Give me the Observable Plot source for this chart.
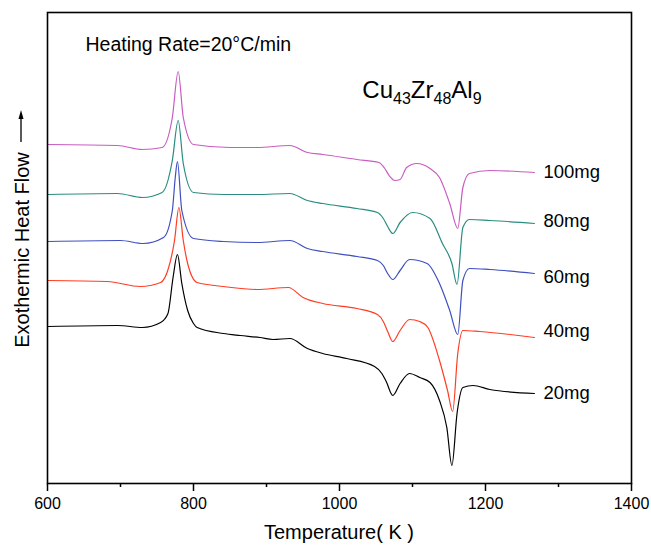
<!DOCTYPE html>
<html><head><meta charset="utf-8">
<script src="https://cdn.jsdelivr.net/npm/d3@7"></script>
<script src="https://cdn.jsdelivr.net/npm/@observablehq/plot@0.6"></script>
<style>body{margin:0;background:#fff;font-family:"Liberation Sans",Arial,sans-serif}</style>
</head><body><div id="chart"></div>
<script>
const seriesNames = ["20mg","40mg","60mg","80mg","100mg"];
const seriesColors = ["#000000","#ff3d24","#3f4fbf","#2a8c80","#c95cc0"];
const labelDy = [0,-6,4,-2,0];

const T20  = [601,696,730,755,765,772,778,784,792,800,805,841,864,891,909,932,956,977,1010,1048,1058,1064,1073,1083,1096,1110,1124,1137,1147,1154,1161,1169,1183,1206,1267];
const HF20 = [157,158,156,161,170,206,229,200,173,160,156,150,148,146,144,145,135,130,125,117,110,102,88,100,110,106,101,83,56,18,70,96,98,94,90];

const T40  = [601,682,727,755,766,774,780,786,792,805,841,887,930,950,977,1024,1052,1060,1066,1073,1083,1096,1110,1121,1137,1148,1155,1162,1169,1192,1267];
const HF40 = [203,202,197,201,216,243,276,243,220,201,197,194,196,186,180,175,169,162,152,142,153,164,162,156,123,93,72,130,153,152,146];

const T60  = [601,700,731,759,771,775,778,784,800,841,887,932,956,977,1024,1052,1060,1066,1073,1083,1096,1120,1137,1151,1162,1169,1178,1206,1267];
const HF60 = [242,243,240,246,273,306,322,273,245,242,241,243,235,232,227,223,218,210,204,213,224,220,200,173,149,203,215,214,210];

const T80  = [601,696,730,757,771,779,786,800,841,887,932,956,977,1024,1052,1060,1066,1073,1083,1100,1124,1141,1154,1161,1169,1178,1206,1267];
const HF80 = [289,290,286,291,323,363,320,291,289,289,290,283,280,275,271,265,257,250,261,271,265,240,220,199,256,264,263,260];

const T100  = [601,696,730,757,771,779,786,800,850,887,932,956,977,1024,1054,1062,1068,1076,1083,1092,1106,1124,1137,1151,1162,1169,1178,1206,1267];
const HF100 = [339,338,334,336,366,412,366,339,336,336,338,331,329,324,321,315,308,303,304,316,320,315,306,280,255,296,310,313,311];

const xTicks = [600,800,1000,1200,1400];
const xMinorTicks = [700,900,1100,1300];

const allT = [T20,T40,T60,T80,T100];
const allHF = [HF20,HF40,HF60,HF80,HF100];
const rows = [];
const ends = [];
seriesNames.forEach((s,i)=>{
  allT[i].forEach((t,j)=>rows.push({s, T:t, hf:allHF[i][j]}));
  const n = allT[i].length-1;
  ends.push({s, T:allT[i][n], hf:allHF[i][n], dy: labelDy[i]});
});

const plot = Plot.plot({
  width: 651, height: 546,
  marginLeft: 47, marginRight: 20, marginTop: 12, marginBottom: 63,
  style: {fontFamily: "Liberation Sans, Arial, sans-serif", background: "#fff", overflow: "visible", color: "#000"},
  x: {domain: [600,1400]},
  y: {domain: [0,471], axis: null},
  color: {domain: seriesNames, range: seriesColors},
  marks: [
    Plot.line(rows, {x:"T", y:"hf", z:"s", stroke:"s", strokeWidth:1.2, curve:"monotone-x"}),
    Plot.axisX({ticks: xMinorTicks, tickSize: 4, strokeWidth: 1.5, tickFormat: () => "", label: null}),
    Plot.axisX({ticks: xTicks, tickSize: 8, tickPadding: 6, strokeWidth: 1.5, fontSize: 16, tickFormat: d => String(d), label: null}),
    ...ends.map(e => Plot.text([e], {x:"T", y:"hf", text:"s", dx: 9, dy: e.dy, textAnchor:"start", fontSize: 18.5, fill:"#000"})),
    Plot.text(["Heating Rate=20°C/min"], {x: 652, y: 439, text: d=>d, textAnchor:"start", fontSize: 19.5, fill:"#000"}),
    Plot.frame({stroke:"#000", strokeWidth: 1.6})
  ]
});
document.getElementById("chart").appendChild(plot);

const svg = d3.select(plot);
const xs = plot.scale("x"), ys = plot.scale("y");
// formula
const f = svg.append("text")
  .attr("x", xs.apply(1032)).attr("y", ys.apply(385))
  .attr("text-anchor", "start").attr("font-size", 24).attr("fill", "#000");
[["Cu",false],["43",true],["Zr",false],["48",true],["Al",false],["9",true]].forEach(([t,sub],i)=>{
  f.append("tspan").text(t).attr("font-size", sub ? 16 : 24)
   .attr("dy", i===0 ? 0 : (sub ? 6 : -6));
});
// x label
svg.append("text").attr("x", (47+631)/2).attr("y", 539)
  .attr("text-anchor","middle").attr("font-size", 20).attr("fill","#000")
  .text("Temperature( K )");
// y label
svg.append("text").attr("transform","translate(29,250) rotate(-90)")
  .attr("text-anchor","middle").attr("font-size", 20).attr("fill","#000")
  .text("Exothermic Heat Flow");
svg.append("line").attr("x1",21).attr("x2",21).attr("y1",142).attr("y2",116)
  .attr("stroke","#000").attr("stroke-width",1.3);
svg.append("path").attr("d","M21,110 L18.5,119 L23.5,119 Z").attr("fill","#000");
</script>
</body></html>
